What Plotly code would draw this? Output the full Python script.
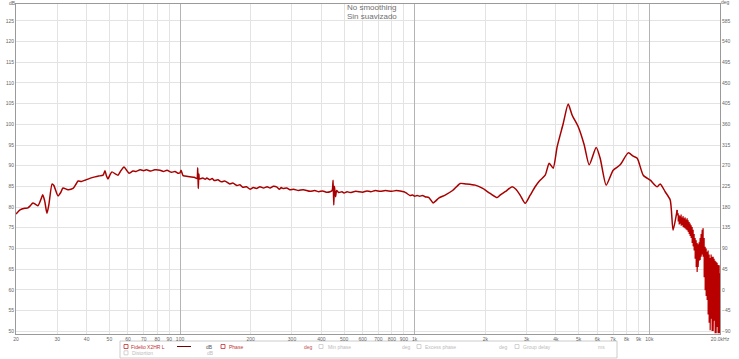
import plotly.graph_objects as go

# ---------------- data ----------------
freq_hz = [20.0, 20.8, 21.8, 22.5, 23.0, 23.6, 24.3, 24.8, 25.6, 26.0, 26.5, 27.1, 27.6, 28.5, 29.0,
           30.2, 31.0, 31.7, 33.3, 35.0, 36.0, 36.8, 38.0, 39.4, 41.5, 43.4, 45.0, 47.0, 47.9, 48.6,
           49.3, 50.3, 51.3, 53.0, 54.4, 56.0, 57.7, 59.0, 60.6, 63, 65, 67.6, 70, 72, 75, 78, 82.2,
           85, 88, 92, 95.2, 98, 100, 101, 103, 105, 110, 115, 118, 119, 119.6, 120.3, 121,
           125, 128, 130, 134, 137, 140, 145, 150, 155, 163, 168, 175, 180, 185, 192, 199, 205,
           212, 219, 227, 235, 242, 250, 259, 265, 270, 275, 285, 294, 305, 320, 335, 358, 375,
           390, 405, 420, 436, 445, 449, 452, 455, 460, 465, 475, 490, 500, 515, 531, 560, 600,
           625, 650, 680, 713, 750, 800, 835, 867, 900, 920, 955, 980, 1000, 1025, 1050, 1080,
           1107, 1150, 1198, 1230, 1270, 1348, 1450, 1563, 1650, 1811, 1950, 2096, 2246,
           2312, 2429, 2601, 2700, 2813, 2957, 3100, 3260, 3400, 3598, 3742, 3891, 4047, 4295, 4509,
           4690, 4976, 5278, 5541, 5935, 6172, 6546, 7011, 7509, 8125, 8536, 8877, 9418, 10088,
           10800, 11120, 11680, 12270, 12620, 13140]
spl_db = [78.3, 79.3, 79.7, 79.8, 80.3, 81.0, 80.6, 80.3, 82.0, 83.0, 81.5, 78.5, 80.5, 85.6, 85.2,
          82.7, 83.5, 84.6, 84.2, 84.5, 85.5, 86.3, 86.2, 86.5, 87.0, 87.3, 87.5, 87.7, 88.8, 87.5,
          86.8, 87.8, 88.5, 88.0, 87.7, 88.8, 89.7, 89.0, 88.2, 88.7, 88.6, 89.0, 88.8, 89.0, 88.7,
          89.0, 88.9, 88.6, 88.9, 88.4, 88.6, 88.2, 88.3, 88.9, 87.6, 87.5, 87.3, 87.2, 86.9, 89.5,
          84.5, 88.0, 86.8,
          87.0, 86.7, 87.0, 86.6, 86.9, 86.4, 86.6, 86.1, 86.3, 85.6, 85.8, 85.2, 85.4, 84.8,
          84.9, 84.3, 84.7, 84.5, 84.9, 84.6, 84.9, 84.6, 85.0, 84.8, 84.3, 84.7, 84.5, 84.6,
          84.2, 84.3, 84.0, 84.2, 83.8, 84.0, 83.7, 83.9, 83.6, 83.7, 84.0, 86.5, 80.5, 85.0,
          82.5, 84.0, 83.5, 83.7, 83.4, 83.7, 83.5, 83.8, 83.6, 83.9, 83.7, 84.0, 83.8, 84.0,
          83.8, 84.0, 83.9, 83.7, 83.4, 82.8, 82.9, 82.6, 82.8, 82.6, 82.8,
          82.5, 82.3, 81.0, 81.5, 82.2, 82.9, 84.0, 85.7, 85.6, 85.3, 84.5, 83.3, 82.3,
          82.9, 83.7, 84.9, 84.3, 82.9, 80.9, 82.8, 84.9, 86.3, 87.7, 90.6, 89.4, 94.6, 100.2, 104.9,
          102.2, 99.4, 95.0, 90.2, 94.4, 91.8, 85.3, 88.9, 90.2, 93.1, 92.3, 91.8, 87.7, 86.5,
          84.9, 85.6, 83.7, 81.7, 74.4, 79.3]

# high-frequency noisy band: per-frequency max / min readings
hf_freq = [13140, 13270, 13400, 13530, 13660, 13800, 13930, 14070, 14210, 14350, 14490, 14630,
           14780, 14920, 15070, 15220, 15370, 15520, 15670, 15830, 15980, 16140, 16300, 16460,
           16620, 16790, 16950, 17120, 17290, 17460, 17630, 17800, 17980, 18160, 18330, 18510,
           18700, 18880, 19070, 19250, 19440, 19630, 19830, 20000]
hf_upper = [79.3, 78.5, 78.0, 77.8, 78.2, 77.5, 77.8, 77.3, 77.5, 77.0, 77.3, 76.8, 76.4, 76.0,
            75.6, 75.2, 74.5, 73.5, 72.5, 72.0, 71.3, 71.0, 71.5, 72.5, 73.5, 74.5, 74.9, 72.5,
            70.4, 70.0, 69.2, 69.5, 68.5, 67.7, 68.5, 68.0, 68.0, 67.5, 67.0, 66.8, 66.5, 66.0,
            65.9, 64.0]
hf_lower = [78.0, 76.5, 75.8, 76.0, 75.5, 75.6, 75.2, 75.0, 74.8, 74.6, 74.4, 74.0, 73.5, 73.0,
            72.5, 71.3, 70.5, 69.5, 67.5, 65.5, 64.3, 65.5, 67.0, 67.2, 68.0, 68.5, 68.0, 63.0,
            59.9, 58.5, 57.5, 54.0, 52.0, 50.2, 53.0, 50.0, 50.0, 52.5, 49.5, 49.5, 51.0, 49.5,
            49.5, 49.5]

x_tickvals = [20, 30, 40, 50, 60, 70, 80, 90, 100, 200, 300, 400, 500, 600, 700, 800, 900,
              1000, 2000, 3000, 4000, 5000, 6000, 7000, 8000, 9000, 10000, 20000]
x_ticktext = ["20", "30", "40", "50", "60", "70", "80", "90", "100", "200", "300", "400", "500",
              "600", "700", "800", "900", "1k", "2k", "3k", "4k", "5k", "6k", "7k", "8k", "9k",
              "10k", "20.0kHz"]
db_ticks = [50, 55, 60, 65, 70, 75, 80, 85, 90, 95, 100, 105, 110, 115, 120, 125]
deg_ticks = [-90, -45, 0, 45, 90, 135, 180, 225, 270, 315, 360, 405, 450, 495, 540, 585]
decades = [100, 1000, 10000]

# ---------------- build series ----------------
hx, hy = [], []
for f, u, l in zip(hf_freq, hf_upper, hf_lower):
    hx += [f, f]
    hy += [u, l]

Y0, Y1 = 49.3, 129.1
LINE = "#a80000"
GRID = "#e3e3e3"
TXT = "#666666"
FONT = "Liberation Sans, Arial, sans-serif"

fig = go.Figure()
fig.add_trace(go.Scatter(x=freq_hz, y=spl_db, mode="lines",
                         line=dict(color=LINE, width=1.5, shape="spline", smoothing=0.6),
                         hoverinfo="skip", showlegend=False))
fig.add_trace(go.Scatter(x=hx, y=hy, mode="lines", line=dict(color="#b80000", width=1.2),
                         hoverinfo="skip", showlegend=False))
# invisible trace on deg axis so the right axis is drawn
fig.add_trace(go.Scatter(x=[20], y=[0], yaxis="y2", mode="markers", marker=dict(opacity=0),
                         hoverinfo="skip", showlegend=False))
# dummy trace on decade axis
fig.add_trace(go.Scatter(x=[20], y=[Y0], xaxis="x2", mode="markers", marker=dict(opacity=0),
                         hoverinfo="skip", showlegend=False))

fig.update_layout(
    width=739, height=359,
    margin=dict(l=16, r=19, t=4, b=25),
    paper_bgcolor="white", plot_bgcolor="white",
    font=dict(family=FONT, size=5, color=TXT),
    xaxis=dict(type="log", range=[1.30103, 4.30103], tickvals=x_tickvals, ticktext=x_ticktext,
               showgrid=True, gridcolor=GRID, gridwidth=1, zeroline=False,
               showline=True, linecolor="#9a9a9a", linewidth=1, mirror=True,
               ticks="", tickfont=dict(size=5, color=TXT)),
    xaxis2=dict(type="log", range=[1.30103, 4.30103], overlaying="x", tickvals=decades,
                showticklabels=False, showgrid=True, gridcolor="#b4b4b4", gridwidth=1,
                zeroline=False, showline=False, ticks=""),
    yaxis=dict(range=[Y0, Y1], tickvals=db_ticks, showgrid=True, gridcolor=GRID, zeroline=False,
               showline=True, linecolor="#9a9a9a", linewidth=1, ticks="",
               tickfont=dict(size=5, color=TXT)),
    yaxis2=dict(range=[(Y0 - 60) * 9, (Y1 - 60) * 9], overlaying="y", side="right",
                tickvals=deg_ticks, showgrid=False, zeroline=False, showline=True,
                linecolor="#9a9a9a", linewidth=1, ticks="", tickfont=dict(size=5, color=TXT)),
    showlegend=False,
)

def px_x(X):
    return (X - 16) / 704.0

def px_y(Y):
    return (334 - Y) / 330.0

ann = []
ann.append(dict(text="No smoothing", x=px_x(345), y=px_y(8), xref="paper", yref="paper",
                xanchor="left", yanchor="middle", showarrow=False,
                font=dict(size=8, color="#707070", family=FONT)))
ann.append(dict(text="Sin suavizado", x=px_x(345), y=px_y(16), xref="paper", yref="paper",
                xanchor="left", yanchor="middle", showarrow=False,
                font=dict(size=8, color="#707070", family=FONT)))
ann.append(dict(text="dB", x=px_x(12), y=px_y(3), xref="paper", yref="paper", xanchor="center",
                yanchor="middle", showarrow=False, font=dict(size=5, color=TXT)))
ann.append(dict(text="deg", x=px_x(725), y=px_y(2), xref="paper", yref="paper", xanchor="center",
                yanchor="middle", showarrow=False, font=dict(size=5, color=TXT)))

legend_items = [
    (129, 346.5, "Fidelio X2HR L", "#c03030"), (204, 346.5, "dB", "#555555"),
    (227, 346.5, "Phase", "#c03030"), (302, 346.5, "deg", "#c05050"),
    (326, 346.5, "Min phase", "#bbbbbb"), (400, 346.5, "deg", "#bbbbbb"),
    (423, 346.5, "Excess phase", "#bbbbbb"), (497, 346.5, "deg", "#bbbbbb"),
    (521, 346.5, "Group delay", "#bbbbbb"), (596, 346.5, "ms", "#bbbbbb"),
    (130, 352.8, "Distortion", "#bbbbbb"), (205, 352.8, "dB", "#bbbbbb"),
]
for X, Y, t, c in legend_items:
    ann.append(dict(text=t, x=px_x(X), y=px_y(Y), xref="paper", yref="paper", xanchor="left",
                    yanchor="middle", showarrow=False, font=dict(size=5, color=c)))

shapes = [dict(type="rect", xref="paper", yref="paper", x0=px_x(120), x1=px_x(617),
               y0=px_y(358), y1=px_y(341), line=dict(color="#cccccc", width=1),
               fillcolor="white", layer="below")]
for X, Y, c in [(124, 346.5, "#c03030"), (221, 346.5, "#c03030"), (319, 346.5, "#c8c8c8"),
                (417, 346.5, "#c8c8c8"), (515, 346.5, "#c8c8c8"), (124, 352.8, "#c8c8c8")]:
    shapes.append(dict(type="rect", xref="paper", yref="paper", x0=px_x(X), x1=px_x(X + 4),
                       y0=px_y(Y + 2), y1=px_y(Y - 2), line=dict(color=c, width=0.8)))
shapes.append(dict(type="line", xref="paper", yref="paper", x0=px_x(177), x1=px_x(191),
                   y0=px_y(346.5), y1=px_y(346.5), line=dict(color="#700000", width=1)))

fig.update_layout(annotations=ann, shapes=shapes)
fig.write_html("out.html")
